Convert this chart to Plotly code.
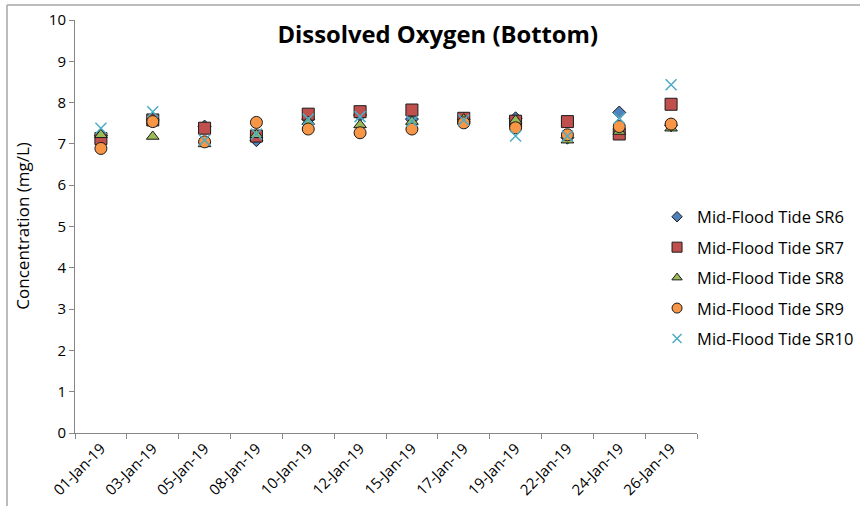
import plotly.graph_objects as go

categories = ["01-Jan-19", "03-Jan-19", "05-Jan-19", "08-Jan-19", "10-Jan-19", "12-Jan-19",
              "15-Jan-19", "17-Jan-19", "19-Jan-19", "22-Jan-19", "24-Jan-19", "26-Jan-19"]

sr6 = [7.20, 7.58, 7.42, 7.09, 7.60, 7.70, 7.60, 7.60, 7.62, 7.15, 7.76, 7.45]
sr7 = [7.13, 7.58, 7.38, 7.19, 7.72, 7.78, 7.82, 7.62, 7.55, 7.54, 7.24, 7.96]
sr8 = [7.22, 7.18, 7.00, 7.22, 7.54, 7.46, 7.54, 7.60, 7.57, 7.09, 7.30, 7.38]
sr9 = [6.89, 7.54, 7.05, 7.52, 7.36, 7.27, 7.36, 7.51, 7.39, 7.22, 7.42, 7.48]
sr10 = [7.38, 7.78, 7.09, 7.24, 7.60, 7.66, 7.55, 7.58, 7.19, 7.19, 7.62, 8.43]

series_names = ["Mid-Flood Tide SR6", "Mid-Flood Tide SR7", "Mid-Flood Tide SR8",
                "Mid-Flood Tide SR9", "Mid-Flood Tide SR10"]
series_values = [sr6, sr7, sr8, sr9, sr10]
symbols = ["diamond", "square", "triangle-up", "circle", "x-thin"]
colors = ["#4F81BD", "#C0504D", "#9BBB59", "#F79646", "#4BACC6"]
sizes = [10, 12, 11, 12, 11]
legend_sizes = [8, 10, 9, 10, 9]

FONT = "Open Sans"


def make_marker(sym, col, sz):
    if sym == "x-thin":
        return dict(symbol=sym, size=sz, color=col, line=dict(color=col, width=1.5))
    return dict(symbol=sym, size=sz, color=col, line=dict(color="#1a1a1a", width=1))


fig = go.Figure()
for i, (name, vals, sym, col, sz) in enumerate(zip(series_names, series_values, symbols, colors, sizes)):
    fig.add_trace(go.Scatter(x=categories, y=vals, mode="markers", name=name,
                             marker=make_marker(sym, col, sz), legendgroup=f"g{i}",
                             showlegend=False))
# legend entries with smaller symbols (as in the reference legend)
for i, (name, sym, col, lsz) in enumerate(zip(series_names, symbols, colors, legend_sizes)):
    fig.add_trace(go.Scatter(x=[None], y=[None], mode="markers", name=name,
                             marker=make_marker(sym, col, lsz), legendgroup=f"g{i}",
                             showlegend=True, hoverinfo="skip"))

fig.update_layout(
    width=860, height=506,
    margin=dict(l=75, r=163, t=20, b=73, autoexpand=False),
    paper_bgcolor="white", plot_bgcolor="white",
    font=dict(family=FONT, color="#000000"),
    title=dict(text="<b>Dissolved Oxygen (Bottom)</b>", x=0.509, xanchor="center",
               y=0.931, yanchor="middle", font=dict(size=23.8, family=FONT, color="#000000")),
    showlegend=True,
    legend=dict(xref="container", yref="container", x=0.764, xanchor="left",
                y=0.4506, yanchor="middle",
                font=dict(size=16.5, family=FONT, color="#000000"),
                bgcolor="rgba(0,0,0,0)", itemwidth=30, tracegroupgap=6),
)
fig.update_xaxes(
    type="category", categoryorder="array", categoryarray=categories,
    range=[-0.5, len(categories) - 0.5], autorange=False,
    showline=True, linecolor="#868686", linewidth=1,
    ticks="outside", tickson="boundaries", ticklen=5, tickcolor="#868686",
    tickangle=-45, tickfont=dict(size=15, family=FONT, color="#000000"),
    showgrid=False, zeroline=False, automargin=False,
)
fig.update_yaxes(
    range=[0, 10], dtick=1, showline=True, linecolor="#868686", linewidth=1,
    ticks="outside", ticklen=5, tickcolor="#868686",
    tickfont=dict(size=15, family=FONT, color="#000000"),
    showgrid=False, zeroline=False, automargin=False,
)

fig.add_annotation(text="Concentration (mg/L)", xref="paper", yref="paper",
                   x=-0.085, y=0.5, xanchor="center", yanchor="middle", textangle=-90,
                   showarrow=False, font=dict(size=17, family=FONT, color="#000000"))

# outer chart frame (top and left edges visible in reference)
fig.add_shape(type="line", xref="paper", yref="paper", x0=-0.1093, x1=1.3, y0=1.0363, y1=1.0363,
              line=dict(color="#A6A6A6", width=1.5))
fig.add_shape(type="line", xref="paper", yref="paper", x0=-0.1093, x1=-0.1093, y0=-0.2, y1=1.0363,
              line=dict(color="#A6A6A6", width=1.5))

fig.write_html("out.html",
               config={"displayModeBar": False},
               post_script="document.body.style.margin='0';"
                           "document.documentElement.style.overflow='hidden';"
                           "document.body.style.overflow='hidden';")
